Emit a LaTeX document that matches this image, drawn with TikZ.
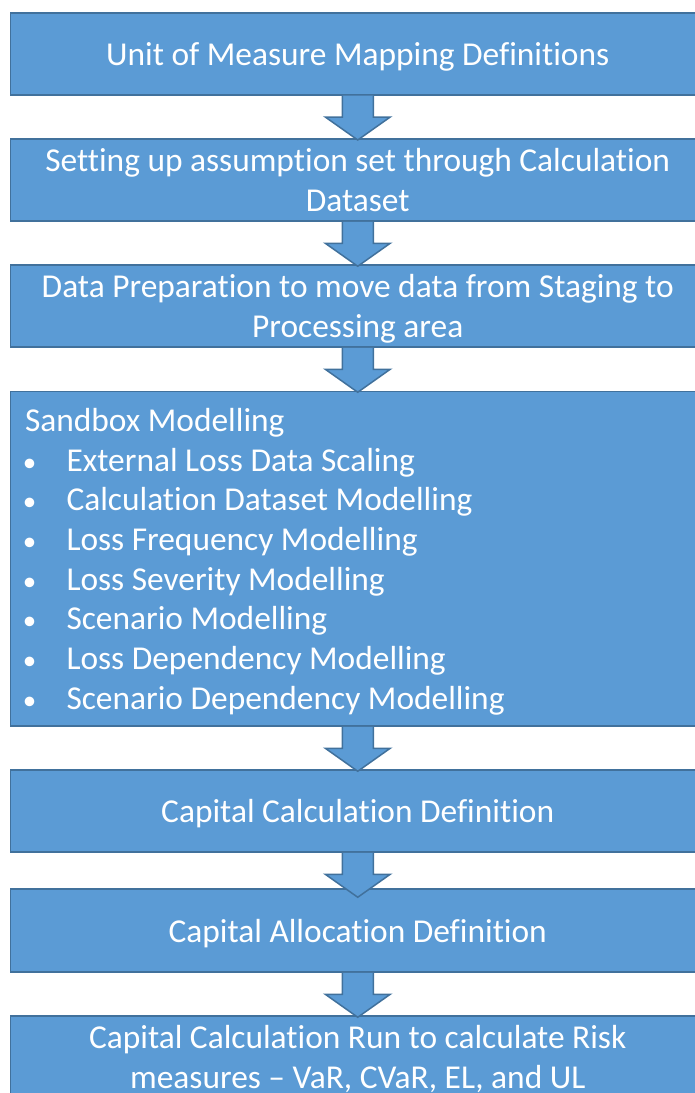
\documentclass[tikz,border=0pt]{standalone}
\usepackage{fontspec}
\setmainfont[Ligatures=NoCommon]{Carlito}
\usetikzlibrary{calc}
\definecolor{boxblue}{HTML}{5B9BD5}
\definecolor{boxline}{HTML}{41719C}
\newcommand{\bulletitem}{\makebox[41.5pt][l]{\hspace{-2pt}{\fontsize{27}{0}\selectfont\textbullet}}}
\begin{document}
\begin{tikzpicture}[x=1pt,y=-1pt]
\tikzstyle{stage}=[draw=boxline, line width=1.5pt, fill=boxblue, text=white, align=flush center, text width=680pt, minimum width=694.5pt, minimum height=82pt, inner sep=0pt, font=\fontsize{33.4}{39.7}\selectfont,
  execute at begin node={\rule{0pt}{29.5pt}}, execute at end node={\rule[-6.5pt]{0pt}{6.5pt}}]
\tikzstyle{flow}=[draw=boxline, line width=1.5pt, fill=boxblue]
\useasboundingbox (0,0) rectangle (694,1093);
%
\node[stage] at (357.75,53.75) (unit) {Unit of Measure Mapping Definitions};
\node[stage] at (357.75,180) (assume) {Setting up assumption set through Calculation \\ Dataset};
\node[stage] at (357.75,306) (prep) {Data Preparation to move data from Staging to \\ Processing area};
\node[stage, align=flush left, text width=665.5pt, minimum height=334.5pt] at (357.75,558.75) (sandbox) {Sandbox Modelling \\
\bulletitem External Loss Data Scaling \\
\bulletitem Calculation Dataset Modelling \\
\bulletitem Loss Frequency Modelling \\
\bulletitem Loss Severity Modelling \\
\bulletitem Scenario Modelling \\
\bulletitem Loss Dependency Modelling \\
\bulletitem Scenario Dependency Modelling};
\node[stage] at (357.75,811) (capcalc) {Capital Calculation Definition};
\node[stage, minimum height=83pt] at (357.75,930.5) (capalloc) {Capital Allocation Definition};
\node[stage] at (357.75,1057) (caprun) {Capital Calculation Run to calculate Risk \\ measures -- VaR, CVaR, EL, and UL};
%
\foreach \a in {unit,assume,prep,sandbox,capcalc,capalloc}
  \draw[flow] ($(\a.south)+(-15.5,0)$) -- ++(0,21.5) -- ++(-17,0) -- ($(\a.south)+(0,44.5)$) -- ($(\a.south)+(32.5,21.5)$) -- ++(-17,0) -- ++(0,-21.5);
\end{tikzpicture}
\end{document}
